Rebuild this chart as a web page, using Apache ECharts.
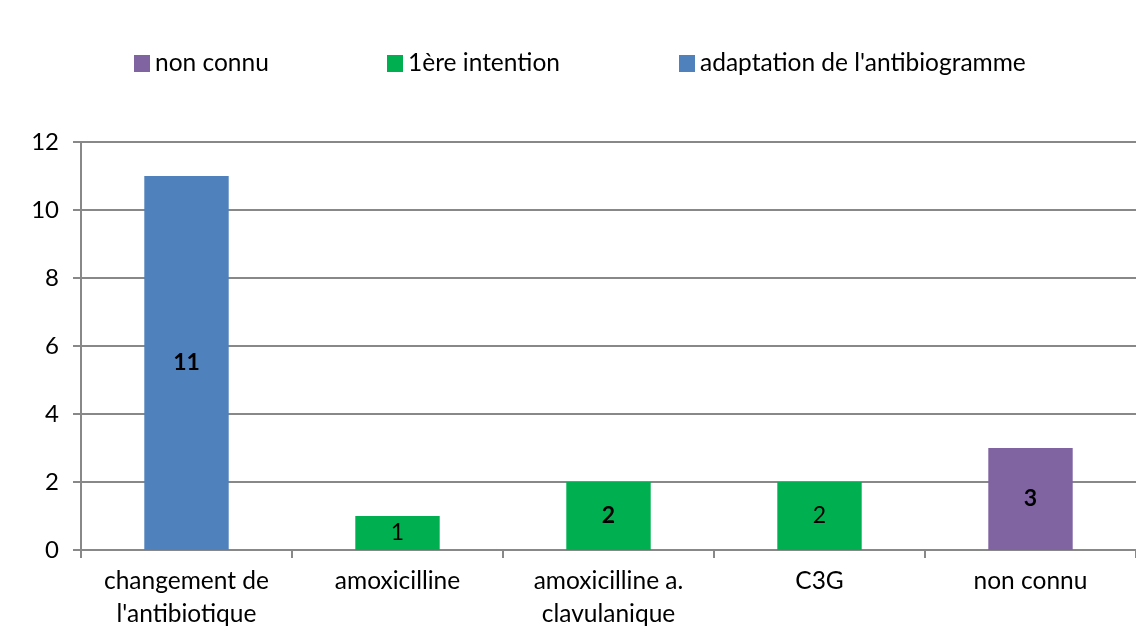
<!DOCTYPE html>
<html><head><meta charset="utf-8">
<script src="https://cdn.jsdelivr.net/npm/echarts@6/dist/echarts.min.js"></script>
<style>html,body{margin:0;padding:0;background:#fff}#c{width:1136px;height:632px}</style>
</head><body><div id="c"></div>
<script>
const categories = ["changement de\nl'antibiotique", "amoxicilline", "amoxicilline a.\nclavulanique", "C3G", "non connu"];
const seriesNames = ["non connu", "1ère intention", "adaptation de l'antibiogramme"];
const nonConnu = [null, null, null, null, 3];
const premiereIntention = [null, 1, 2, 2, null];
const adaptation = [11, null, null, null, null];
const yTicks = [0, 2, 4, 6, 8, 10, 12];
const boldLabelIdx = [0, 2, 4];

const colors = ['#8064a2', '#00b050', '#4f81bd'];
const FONT = 'Lato, "Open Sans", sans-serif';
function mk(arr) {
  return arr.map((v, i) => v == null ? null : {
    value: v,
    label: { fontWeight: boldLabelIdx.includes(i) ? 'bold' : 'normal' }
  });
}
const allData = [nonConnu, premiereIntention, adaptation];
const chart = echarts.init(document.getElementById('c'));
const legendX = [129, 382, 674];
chart.setOption({
  animation: false,
  textStyle: { fontFamily: FONT },
  legend: seriesNames.map((n, k) => ({
    data: [n], left: legendX[k], top: 46, itemWidth: 16, itemHeight: 17,
    icon: 'rect', textStyle: { fontSize: 24.5, color: '#000', fontFamily: FONT }
  })),
  grid: { left: 81, top: 142, width: 1060, height: 408, containLabel: false },
  xAxis: {
    type: 'category', data: categories,
    axisLine: { lineStyle: { color: '#888', width: 2 } },
    axisTick: { show: true, alignWithLabel: false, length: 8, lineStyle: { color: '#888', width: 2 } },
    axisLabel: { color: '#000', fontSize: 24.5, lineHeight: 33, margin: 15, fontFamily: FONT, interval: 0 }
  },
  yAxis: {
    type: 'value', min: yTicks[0], max: yTicks[yTicks.length - 1], interval: 2,
    axisLine: { show: true, lineStyle: { color: '#888', width: 2 } },
    axisTick: { show: true, length: 8, inside: false, lineStyle: { color: '#888', width: 2 } },
    splitLine: { lineStyle: { color: '#888', width: 2 } },
    axisLabel: { color: '#000', fontSize: 24, margin: 22, fontFamily: FONT }
  },
  series: seriesNames.map((n, k) => ({
    name: n, type: 'bar', stack: 'all', data: mk(allData[k]), barWidth: '40%',
    itemStyle: { color: colors[k] },
    label: { show: true, position: 'inside', color: '#000', fontSize: 23, fontFamily: FONT }
  }))
});
</script></body></html>
